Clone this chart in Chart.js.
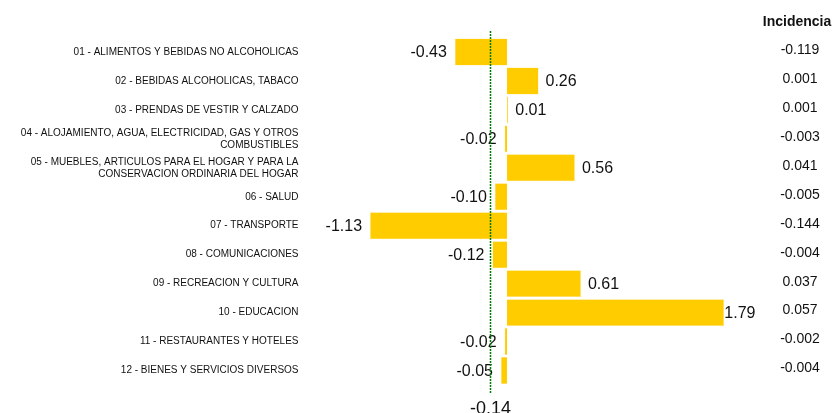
<!DOCTYPE html>
<html>
<head>
<meta charset="utf-8">
<script src="https://cdn.jsdelivr.net/npm/chart.js@4/dist/chart.umd.min.js"></script>
<style>
  body { margin: 0; background: #fff; }
  canvas { display: block; }
</style>
</head>
<body>
<canvas id="grafico" width="835" height="413"></canvas>
<script>
// divisiones del gasto
var categorias = [
    '01 - ALIMENTOS Y BEBIDAS NO ALCOHOLICAS',
    '02 - BEBIDAS ALCOHOLICAS, TABACO',
    '03 - PRENDAS DE VESTIR Y CALZADO',
    ['04 - ALOJAMIENTO, AGUA, ELECTRICIDAD, GAS Y OTROS', 'COMBUSTIBLES'],
    ['05 - MUEBLES, ARTICULOS PARA EL HOGAR Y PARA LA', 'CONSERVACION ORDINARIA DEL HOGAR'],
    '06 - SALUD',
    '07 - TRANSPORTE',
    '08 - COMUNICACIONES',
    '09 - RECREACION Y CULTURA',
    '10 - EDUCACION',
    '11 - RESTAURANTES Y HOTELES',
    '12 - BIENES Y SERVICIOS DIVERSOS'
];
var variacion = [-0.43, 0.26, 0.01, -0.02, 0.56, -0.10, -1.13, -0.12, 0.61, 1.79, -0.02, -0.05];
var incidencia = ['-0.119', '0.001', '0.001', '-0.003', '0.041', '-0.005', '-0.144', '-0.004', '0.037', '0.057', '-0.002', '-0.004'];
var promedio = -0.14;

var fuente = '"Liberation Sans", Arial, sans-serif';

// etiquetas de valor al final de cada barra
var etiquetasBarras = {
    id: 'etiquetasBarras',
    afterDatasetsDraw: function (chart) {
        var ctx = chart.ctx;
        var meta = chart.getDatasetMeta(0);
        ctx.save();
        ctx.font = '16px ' + fuente;
        ctx.fillStyle = '#111';
        ctx.textBaseline = 'middle';
        ctx.textAlign = 'left';
        meta.data.forEach(function (bar, i) {
            var v = variacion[i];
            var txt = v.toFixed(2);
            var w = ctx.measureText(txt).width;
            var x;
            if (v < 0) {
                x = bar.x - 8 - w;
            } else {
                x = Math.min(bar.x + 7, chart.chartArea.right - w);
            }
            ctx.fillText(txt, x, bar.y + 1);
        });
        ctx.restore();
    }
};

// linea del promedio y columna de incidencia
var extras = {
    id: 'extras',
    afterDraw: function (chart) {
        var ctx = chart.ctx;
        var xs = chart.scales.x;
        var ys = chart.scales.y;
        var xp = Math.round(xs.getPixelForValue(promedio)) + 0.5;
        ctx.save();
        ctx.strokeStyle = '#007a00';
        ctx.lineWidth = 1.5;
        ctx.setLineDash([2, 1]);
        ctx.beginPath();
        ctx.moveTo(xp, 31);
        ctx.lineTo(xp, 394);
        ctx.stroke();
        ctx.setLineDash([]);

        ctx.fillStyle = '#111';
        ctx.font = '18px ' + fuente;
        ctx.textAlign = 'center';
        ctx.textBaseline = 'alphabetic';
        ctx.fillText(promedio.toFixed(2), xp, 414);

        ctx.font = 'bold 14px ' + fuente;
        ctx.fillText('Incidencia', 797, 26);
        ctx.font = '14px ' + fuente;
        ctx.textBaseline = 'middle';
        incidencia.forEach(function (t, i) {
            ctx.fillText(t, 800, ys.getPixelForValue(i) - 2);
        });
        ctx.restore();
    }
};

new Chart(document.getElementById('grafico'), {
    type: 'bar',
    data: {
        labels: categorias,
        datasets: [{
            data: variacion,
            backgroundColor: '#FFCC00',
            borderColor: '#FFE680',
            borderWidth: 0.5,
            categoryPercentage: 1,
            barPercentage: 0.93
        }]
    },
    options: {
        indexAxis: 'y',
        responsive: false,
        animation: false,
        layout: { padding: { left: 0, right: 79.5, top: 37.5, bottom: 28 } },
        plugins: {
            legend: { display: false },
            tooltip: { enabled: false }
        },
        scales: {
            x: {
                display: false,
                min: -1.25,
                max: 2.05
            },
            y: {
                grid: { display: false, drawTicks: false },
                border: { display: false },
                afterFit: function (scale) {
                    scale.width = 355.5;
                    scale.paddingTop = 0;
                    scale.paddingBottom = 0;
                },
                ticks: {
                    padding: 57,
                    color: '#111',
                    font: { family: fuente, size: 10 }
                }
            }
        }
    },
    plugins: [etiquetasBarras, extras]
});
</script>
</body>
</html>
